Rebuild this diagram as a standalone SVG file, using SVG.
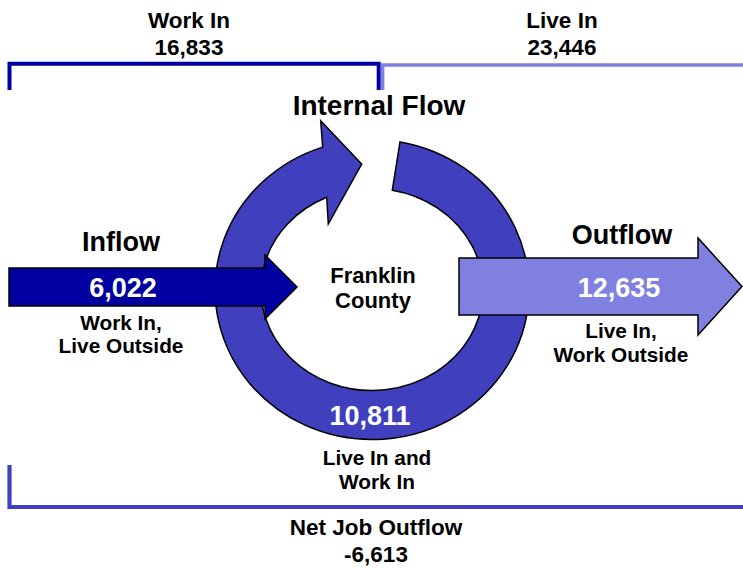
<svg xmlns="http://www.w3.org/2000/svg" width="743" height="569" viewBox="0 0 743 569">
<style>
text{font-family:"Liberation Sans",Arial,sans-serif;font-weight:bold;text-anchor:middle;fill:#000}
.h{font-size:27px}
.h2{font-size:28px}
.n{font-size:27px;fill:#fff}
.s{font-size:20.8px}
.c{font-size:22px}
.t{font-size:22.5px}
.shape{stroke:#000;stroke-width:1.5;stroke-linejoin:miter}
.br{fill:none;stroke-linecap:butt;stroke-linejoin:miter}
</style>
<rect width="743" height="569" fill="#fff"/>
<g id="connectors">
<path class="br" d="M9.5,90 V63.7 H378.7 V90" stroke="#0000A0" stroke-width="4"/>
<path class="br" d="M382.7,90 V65 H745" stroke="#8080E0" stroke-width="3.4"/>
<path class="br" d="M9.5,465 V507 H745" stroke="#4040BF" stroke-width="4.2"/>
</g>
<g id="internal-flow">
<path class="shape" fill="#4040BF" d="M400,141.9 A157,150 0 1,1 322.7,147.1 L320.7,120.7 L361.7,164 L328.3,224 L326.7,197.3 A111,101 0 1,0 392.3,190.2 Z"/>
<text class="h2" x="379" y="115">Internal Flow</text>
<text class="n" x="370" y="425">10,811</text>
<text class="s" x="377" y="465">Live In and</text>
<text class="s" x="377" y="489">Work In</text>
</g>
<g id="inflow">
<polygon class="shape" fill="#0000A0" points="9,268 265,268 265,255 297,287 265,319 265,306 9,306"/>
<text class="h" x="121" y="251">Inflow</text>
<text class="n" x="123" y="297">6,022</text>
<text class="s" x="121" y="330">Work In,</text>
<text class="s" x="121" y="353">Live Outside</text>
</g>
<g id="outflow">
<polygon class="shape" fill="#8080E0" points="459,258 698,258 698,238 742,286.5 698,335 698,315 459,315"/>
<text class="h" x="622" y="244">Outflow</text>
<text class="n" x="619" y="297">12,635</text>
<text class="s" x="621" y="338">Live In,</text>
<text class="s" x="621" y="362">Work Outside</text>
</g>
<g id="county">
<text class="c" x="373" y="283">Franklin</text>
<text class="c" x="373" y="308">County</text>
</g>
<g id="work-in">
<text class="t" x="189" y="28">Work In</text>
<text class="t" x="189" y="55">16,833</text>
</g>
<g id="live-in">
<text class="t" x="562" y="28">Live In</text>
<text class="t" x="562" y="55">23,446</text>
</g>
<g id="net">
<text class="t" x="376" y="535">Net Job Outflow</text>
<text class="t" x="376" y="562">-6,613</text>
</g>
</svg>
